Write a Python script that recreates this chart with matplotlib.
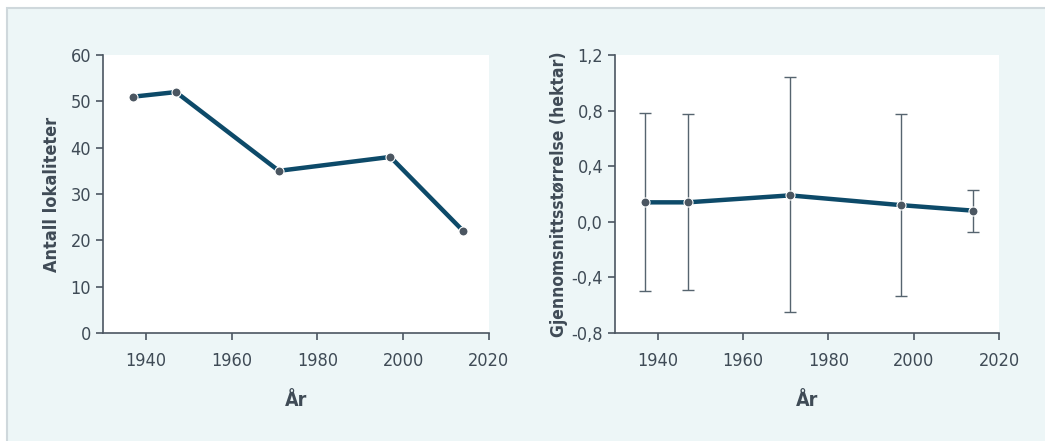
import matplotlib.pyplot as plt
from matplotlib.patches import Rectangle
from matplotlib.ticker import FuncFormatter

# Data
aar = [1937, 1947, 1971, 1997, 2014]
antall = [51, 52, 35, 38, 22]
snitt = [0.14, 0.14, 0.19, 0.12, 0.08]
ovre = [0.78, 0.775, 1.04, 0.775, 0.23]
nedre = [-0.50, -0.49, -0.65, -0.535, -0.075]

plt.rcParams['font.family'] = ['DejaVu Sans']
plt.rcParams['font.stretch'] = 'condensed'

bg = '#edf6f7'
txt = '#3f4b56'
linje = '#0d4a69'
punkt = '#4b5661'

fig = plt.figure(figsize=(10.45, 4.41), dpi=100)
fig.patch.set_facecolor('white')
W, H = 1045, 441
fig.patches.append(Rectangle((7 / W, -0.01), 1, 1 - 8 / H + 0.01, transform=fig.transFigure,
                             facecolor=bg, edgecolor='#cfd8dc', linewidth=1.5, zorder=-10))

ax1 = fig.add_axes([103 / W, 1 - 333 / H, (489 - 103) / W, (333 - 55) / H])
ax2 = fig.add_axes([615 / W, 1 - 333 / H, (999 - 615) / W, (333 - 55) / H])

for ax in (ax1, ax2):
    ax.set_facecolor('white')
    for s in ('top', 'right'):
        ax.spines[s].set_visible(False)
    for s in ('left', 'bottom'):
        ax.spines[s].set_color(punkt)
        ax.spines[s].set_linewidth(1.2)
    ax.tick_params(direction='out', length=5, width=1.2, color=punkt,
                   labelcolor=txt, labelsize=13)
    ax.tick_params(axis='x', pad=9)
    ax.set_xlim(1930, 2020)
    ax.set_xticks([1940, 1960, 1980, 2000, 2020])
    ax.set_xlabel('År', fontsize=14, fontweight='bold', color=txt, labelpad=15)

# Venstre: antall lokaliteter
ax1.plot(aar, antall, color=linje, linewidth=3.2, zorder=3)
ax1.plot(aar, antall, 'o', color=punkt, markersize=6.5, markeredgecolor='white',
         markeredgewidth=0.8, zorder=4)
ax1.set_ylim(0, 60)
ax1.set_yticks(range(0, 61, 10))
ax1.set_ylabel('Antall lokaliteter', fontsize=13, fontweight='bold', color=txt, labelpad=7)

# Hoyre: gjennomsnittsstorrelse med feilstolper
feil = [[m - lo for m, lo in zip(snitt, nedre)], [hi - m for m, hi in zip(snitt, ovre)]]
ax2.errorbar(aar, snitt, yerr=feil, fmt='none', ecolor='#56646f', elinewidth=1,
             capsize=4.5, capthick=1, zorder=2)
ax2.plot(aar, snitt, color=linje, linewidth=3.2, zorder=3)
ax2.plot(aar, snitt, 'o', color=punkt, markersize=6.5, markeredgecolor='white',
         markeredgewidth=0.8, zorder=4)
ax2.set_ylim(-0.8, 1.2)
ax2.set_yticks([-0.8, -0.4, 0.0, 0.4, 0.8, 1.2])
ax2.yaxis.set_major_formatter(FuncFormatter(lambda v, p: f'{v:.1f}'.replace('.', ',')))
ax2.set_ylabel('Gjennomsnittsstørrelse (hektar)', fontsize=12.5, fontweight='bold',
               color=txt, labelpad=3)

fig.savefig('out.png', dpi=100, facecolor=fig.get_facecolor())
